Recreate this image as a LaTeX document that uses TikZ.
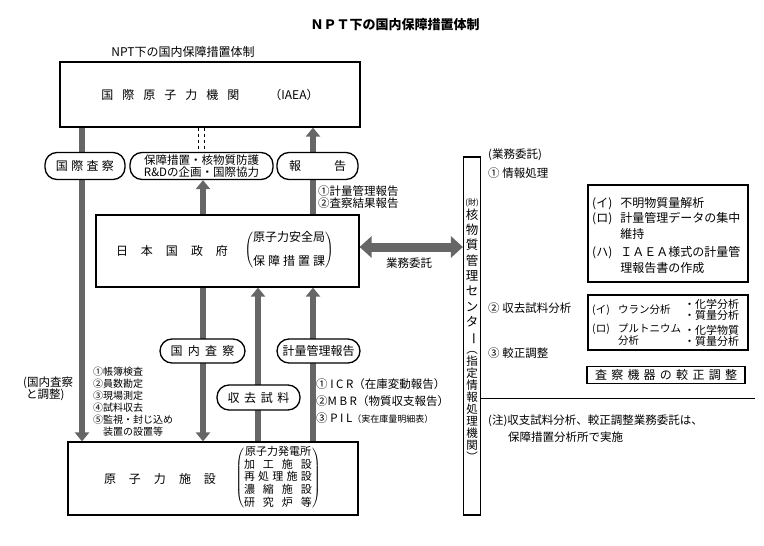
\documentclass[tikz,border=0pt]{standalone}
\usepackage{fontspec}
\setmainfont{Noto Sans CJK JP}
\usepackage{tikz}
\usetikzlibrary{arrows.meta, positioning}
\pgfdeclarelayer{background}
\pgfsetlayers{background,main}
\newcommand{\evenly}[2]{\makebox[#1][s]{#2}}

\begin{document}
\begin{tikzpicture}[x=1pt,y=-1pt,>={Triangle[width=14pt,length=9pt]}]
  % styles
  \tikzstyle{box} = [rectangle,draw=black,line width=1.2pt,fill=white,inner sep=0pt];
  \tikzstyle{pill} = [rectangle,rounded corners=12pt,draw=black,line width=1.3pt,fill=white,minimum height=27pt,inner sep=0pt,font=\fontsize{12}{12}\selectfont];
  \tikzstyle{lbl} = [inner sep=0pt,font=\fontsize{11.5}{12}\selectfont,align=left];
  \tikzstyle{flow} = [->,line width=6.5pt,draw=black!60];
  \tikzstyle{both} = [<->,>={Triangle[width=21pt,length=12pt]},line width=9pt,draw=black!60];
  \useasboundingbox (0,0) rectangle (764,546);

  % nodes
  \node[font=\bfseries\fontsize{13}{13}\selectfont] (title) at (395,25) {ＮＰＴ下の国内保障措置体制};
  \node[font=\fontsize{12}{12}\selectfont] (subtitle) at (183,52) {NPT下の国内保障措置体制};

  \node[box,minimum width=300pt,minimum height=65pt,font=\fontsize{12}{12}\selectfont] (iaea) at (210,94.5)
    {\evenly{138pt}{国 際 原 子 力 機 関}\hspace{30pt}（IAEA）};

  \node[pill,minimum width=80pt] (intl) at (85,166) {\evenly{58pt}{国 際 査 察}};
  \node[pill,minimum width=143pt,font=\fontsize{11.5}{12}\selectfont,align=center] (plan) at (201.5,166)
    {保障措置・核物質防護\\R\&Dの企画・国際協力};
  \node[pill,minimum width=81pt] (report) at (317.5,166) {\evenly{57pt}{報 告}};

  \node[box,minimum width=263pt,minimum height=72pt] (govt) at (227.5,251) {};
  \node[font=\fontsize{12}{12}\selectfont] (govtname) at (172,251) {\evenly{112pt}{日 本 国 政 府}};
  \node[font=\fontsize{12}{12}\selectfont] (govtdept) at (289,250)
    {$\left(\begin{tabular}{@{}c@{}}原子力安全局\\[10pt]\evenly{72pt}{保 障 措 置 課}\end{tabular}\right)$};

  \node[pill,minimum width=85pt,minimum height=24pt] (dom) at (202.5,351) {\evenly{64pt}{国 内 査 察}};
  \node[pill,minimum width=83pt,minimum height=24pt] (acct) at (318.5,351) {計量管理報告};
  \node[pill,minimum width=83pt,minimum height=25pt] (sample) at (258.5,397.5) {\evenly{62pt}{収 去 試 料}};

  \node[box,minimum width=290pt,minimum height=73pt] (plant) at (213,478.5) {};
  \node[font=\fontsize{12}{12}\selectfont] (plantname) at (160,479) {\evenly{112pt}{原 子 力 施 設}};
  \node[font=\fontsize{11}{11.8}\selectfont] (plantlist) at (278,478)
    {$\left(\begin{tabular}{@{}c@{}}原子力発電所\\\evenly{68pt}{加 工 施 設}\\\evenly{68pt}{再 処 理 施 設}\\\evenly{68pt}{濃 縮 施 設}\\\evenly{68pt}{研 究 炉 等}\end{tabular}\right)$};

  % labels on the left
  \node[lbl,anchor=west] (reportlist) at (318,197) {①計量管理報告\\②査察結果報告};
  \node[lbl] (commlabel) at (409,263) {業務委託};
  \node[lbl,anchor=west] (domadj) at (23,389) {(国内査察\\\hspace{3pt}と調整)};
  \node[lbl,anchor=west,font=\fontsize{10}{12}\selectfont] (inspitems) at (93,402)
    {①帳簿検査\\②員数勘定\\③現場測定\\④試料収去\\⑤監視・封じ込め\\\hspace{10pt}装置の設置等};
  \node[lbl,anchor=west,font=\fontsize{11.5}{17}\selectfont] (acctitems) at (316,401)
    {①~I~C~R（在庫変動報告）\\②M~B~R（物質収支報告）\\③~P~I~L{\fontsize{9}{17}\selectfont（実在庫量明細表）}};

  % centre column
  \node[box,minimum width=17pt,minimum height=358pt] (centre) at (472,336) {};
  \node[inner sep=0pt,font=\fontsize{8}{8}\selectfont] (zai) at (472,203) {(財)};
  \node[inner sep=0pt,font=\fontsize{12.5}{15.3}\selectfont,align=center] (centrename) at (472,277)
    {核\\物\\質\\管\\理\\セ\\ン\\タ\\\rotatebox[origin=c]{-90}{ー}};
  \node[inner sep=0pt,font=\fontsize{11.5}{12}\selectfont,align=center] (centrerole) at (472,406)
    {︵\\指\\定\\情\\報\\処\\理\\機\\関\\︶};

  % right side
  \node[lbl,anchor=west] (commission) at (488,155) {(業務委託)};
  \node[lbl,anchor=west] (task1) at (488,173) {①\ 情報処理};
  \node[box,minimum width=160pt,minimum height=97pt] (infobox) at (668,233.5) {};
  \node[inner sep=0pt,anchor=west,font=\fontsize{12}{15.5}\selectfont] (infotext) at (592,236.4)
    {\begin{tabular}{@{}l@{\hspace{8pt}}l@{}}(イ)&不明物質量解析\\(ロ)&計量管理データの集中\\&維持\\[3pt](ハ)&ＩＡＥＡ様式の計量管\\&理報告書の作成\end{tabular}};

  \node[lbl,anchor=west] (task2) at (488,308) {②\ 収去試料分析};
  \node[box,minimum width=160pt,minimum height=55pt] (samplebox) at (668,322.5) {};
  \node[inner sep=0pt,anchor=west,font=\fontsize{10.5}{11}\selectfont] (uran) at (592,310)
    {\makebox[26pt][l]{(イ)}ウラン分析};
  \node[inner sep=0pt,anchor=west,font=\fontsize{10.5}{11}\selectfont] (pluto) at (592,335.5)
    {\begin{tabular}{@{}l@{}l@{}}\makebox[26pt][l]{(ロ)}&プルトニウム\\&分析\end{tabular}};
  \node[inner sep=0pt,anchor=west,font=\fontsize{11}{9.5}\selectfont,align=left] (uranway) at (684,309.5) {・化学分析\\・質量分析};
  \node[inner sep=0pt,anchor=west,font=\fontsize{11}{11}\selectfont,align=left] (plutoway) at (684,335.5) {・化学物質\\・質量分析};

  \node[lbl,anchor=west] (task3) at (488,353) {③\ 較正調整};
  \node[box,minimum width=158pt,minimum height=17pt,font=\fontsize{12}{12}\selectfont] (calbox) at (666,375)
    {\evenly{142pt}{査 察 機 器 の 較 正 調 整}};

  \coordinate (sepend) at (755,398);
  \draw[line width=1pt] (centre.east |- sepend) -- (sepend);
  \node[lbl,anchor=west,font=\fontsize{11.5}{17}\selectfont] (note) at (488,428.5)
    {(注)収支試料分析、較正調整業務委託は、\\\hspace{20pt}保障措置分析所で実施};

  % arrow columns
  \coordinate (colL) at (82,0);
  \coordinate (colM) at (203,0);
  \coordinate (colS) at (258,0);
  \coordinate (colR) at (313,0);
  \coordinate (dashL) at (198.5,0);
  \coordinate (dashR) at (204.5,0);
  \coordinate (rowH) at (0,247);

  \begin{pgfonlayer}{background}
  % edges
  \draw[flow] (iaea.south -| colL) -- (plant.north -| colL);
  \draw[line width=1pt,dashed] (iaea.south -| dashL) -- (plan.north -| dashL);
  \draw[line width=1pt,dashed] (iaea.south -| dashR) -- (plan.north -| dashR);
  \draw[flow] (govt.north -| colM) -- (plan.south -| colM);
  \draw[flow] (govt.north -| colR) -- (iaea.south -| colR);
  \draw[flow] (govt.south -| colM) -- (plant.north -| colM);
  \draw[flow] (plant.north -| colS) -- (govt.south -| colS);
  \draw[flow] (plant.north -| colR) -- (govt.south -| colR);
  \draw[both] (govt.east |- rowH) -- (centre.west |- rowH);
  \end{pgfonlayer}
\end{tikzpicture}
\end{document}
